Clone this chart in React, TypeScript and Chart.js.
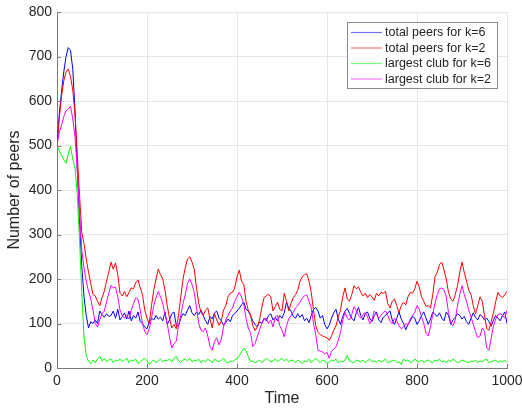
import React, { useEffect, useRef } from "react";
import { Chart, registerables } from "chart.js";
Chart.register(...registerables);

// Sampling interval of the time series (time units between samples)
const TIME_STEP = 5;

const totalPeersK6 = [
  500, 570, 620, 665, 700, 720, 714, 672, 580, 450, 330, 230, 160, 118, 90, 104, 100, 108, 100, 128,
  120, 114, 122, 116, 118, 128, 112, 132, 108, 116,
  124, 110, 128, 106, 118, 112, 126, 104, 100, 92,
  88, 104, 112, 108, 118, 110, 114, 106, 126, 98,
  108, 122, 126, 96, 94, 112, 122, 118, 130, 140,
  124, 118, 126, 120, 130, 118, 106, 98, 116, 110,
  124, 128, 112, 106, 96, 102, 110, 104, 118, 122,
  128, 134, 142, 148, 132, 128, 118, 106, 98, 92,
  104, 100, 112, 106, 118, 122, 108, 114, 106, 118,
  112, 124, 148, 134, 128, 116, 112, 122, 114, 120,
  106, 112, 102, 118, 132, 136, 128, 112, 118, 98,
  88, 96, 112, 124, 132, 110, 98, 116, 128, 134,
  122, 112, 106, 124, 136, 118, 108, 122, 126, 112,
  104, 118, 126, 108, 102, 114, 118, 124, 128, 108,
  98, 112, 126, 110, 100, 86, 98, 106, 116, 112,
  98, 106, 118, 126, 112, 98, 110, 126, 120, 116,
  124, 112, 106, 126, 118, 98, 108, 114, 122, 118,
  110, 116, 104, 98, 112, 124, 114, 108, 120, 116,
  108, 112, 104, 94, 108, 118, 112, 106, 118, 126, 100,
];

const totalPeersK2 = [
  500, 560, 610, 645, 665, 672, 655, 625, 570, 480, 390, 305, 280, 245, 215, 190, 165, 162, 150, 140,
  158, 172, 195, 215, 238, 222, 236, 210, 168, 162,
  172, 160, 170, 180, 178, 192, 198, 180, 165, 130,
  112, 100, 140, 175, 200, 222, 210, 200, 175, 140,
  112, 90, 98, 88, 118, 160, 200, 225, 245, 250,
  238, 222, 180, 145, 125, 118, 130, 135, 110, 90,
  122, 108, 96, 105, 130, 140, 160, 168, 170, 180,
  205, 220, 195, 188, 150, 130, 120, 95, 84, 92,
  108, 135, 158, 162, 166, 160, 128, 138, 148, 132,
  128, 168, 150, 128, 145, 158, 165, 175, 195, 205,
  210, 212, 195, 170, 130, 95, 80, 75, 72, 70,
  68, 62, 72, 85, 95, 115, 130, 160, 180, 155,
  150, 165, 185, 178, 182, 170, 162, 168, 158, 165,
  160, 152, 168, 162, 170, 168, 172, 145, 135, 150,
  155, 140, 125, 140, 148, 142, 160, 170, 168, 178,
  195, 182, 160, 150, 138, 140, 135, 165, 205, 215,
  232, 238, 220, 200, 170, 155, 150, 165, 185, 215,
  238, 215, 195, 175, 165, 140, 122, 140, 160, 150,
  118, 88, 85, 105, 125, 150, 170, 162, 158, 165, 172,
];

const largestClubK6 = [
  500, 488, 478, 468, 460, 480, 498, 470, 450, 390, 290, 170, 70, 28, 14, 10, 18, 12, 20, 26,
  16, 22, 14, 18, 20, 12, 18, 16, 20, 14,
  18, 22, 12, 18, 16, 20, 10, 14, 18, 22,
  16, 8, 14, 18, 12, 16, 20, 14, 18, 16,
  20, 14, 22, 26, 16, 12, 18, 20, 16, 22,
  14, 18, 16, 20, 12, 18, 14, 20, 16, 12,
  20, 16, 14, 18, 22, 14, 12, 16, 14, 18,
  20, 28, 36, 44, 38, 26, 14, 16, 12, 14,
  18, 12, 16, 22, 18, 14, 16, 20, 14, 18,
  22, 16, 20, 14, 18, 16, 12, 18, 14, 10,
  16, 14, 20, 12, 18, 22, 16, 12, 18, 16,
  10, 14, 18, 16, 20, 12, 16, 14, 18, 28,
  16, 14, 12, 18, 16, 14, 18, 12, 16, 20,
  14, 16, 12, 18, 14, 16, 20, 12, 14, 16,
  18, 12, 14, 8, 20, 16, 18, 12, 14, 20,
  16, 14, 18, 12, 16, 18, 14, 12, 18, 16,
  20, 14, 16, 12, 18, 14, 20, 16, 12, 14,
  18, 16, 14, 12, 16, 14, 18, 12, 16, 14,
  18, 20, 12, 14, 16, 18, 12, 16, 14, 18, 12,
];

const largestClubK2 = [
  500, 530, 545, 565, 578, 582, 588, 560, 520, 445, 355, 265, 225, 195, 172, 155, 130, 100, 92, 108,
  122, 128, 148, 168, 186, 180, 182, 160, 130, 118,
  112, 118, 110, 130, 145, 158, 155, 130, 100, 82,
  75, 88, 112, 140, 158, 172, 160, 145, 120, 100,
  70, 45, 55, 60, 95, 118, 145, 165, 190, 200,
  188, 170, 135, 100, 85, 82, 90, 72, 48, 40,
  60, 68, 52, 65, 92, 108, 118, 128, 135, 150,
  160, 170, 160, 142, 112, 90, 80, 48, 55, 70,
  85, 100, 110, 112, 100, 108, 92, 115, 118, 95,
  85, 70, 95, 110, 118, 125, 135, 140, 148, 158,
  162, 165, 150, 135, 100, 75, 40, 38, 36, 32,
  35, 22, 38, 42, 48, 62, 80, 108, 125, 112,
  108, 120, 138, 130, 118, 112, 120, 125, 115, 100,
  108, 128, 120, 112, 118, 125, 128, 118, 105, 100,
  112, 105, 95, 88, 92, 100, 96, 110, 118, 125,
  140, 132, 115, 100, 78, 72, 92, 120, 145, 165,
  178, 180, 176, 160, 125, 100, 95, 108, 140, 165,
  185, 165, 150, 130, 115, 98, 82, 68, 72, 90,
  82, 45, 40, 68, 95, 110, 120, 122, 118, 112, 130,
];

const seriesLabels = [
  "total peers for k=6",
  "total peers for k=2",
  "largest club for k=6",
  "largest club for k=2",
];
const seriesColors = ["#0000ff", "#ff0000", "#00ff00", "#ff00ff"];
const seriesValues = [totalPeersK6, totalPeersK2, largestClubK6, largestClubK2];

const xTickValues = [0, 200, 400, 600, 800, 1000];
const yTickValues = [0, 100, 200, 300, 400, 500, 600, 700, 800];

const FONT = "'Liberation Sans', Arial, Helvetica, sans-serif";
const TEXT = "#262626";
const AXIS = "#7a7a7a";

const legendPlugin = {
  id: "matlabLegend",
  afterDatasetsDraw(chart: any) {
    const ctx = chart.ctx;
    const x0 = 347, y0 = 22, w = 150, h = 66;
    ctx.save();
    ctx.fillStyle = "#ffffff";
    ctx.fillRect(x0, y0, w, h);
    ctx.strokeStyle = "#8a8a8a";
    ctx.lineWidth = 1;
    ctx.strokeRect(x0 + 0.5, y0 + 0.5, w, h);
    ctx.font = `12.5px ${FONT}`;
    ctx.textBaseline = "middle";
    ctx.textAlign = "left";
    seriesLabels.forEach((label, i) => {
      const y = y0 + 10.5 + i * 15.5;
      ctx.strokeStyle = seriesColors[i];
      ctx.globalAlpha = 0.55;
      ctx.lineWidth = 1.2;
      ctx.beginPath();
      ctx.moveTo(x0 + 4, y);
      ctx.lineTo(x0 + 35, y);
      ctx.stroke();
      ctx.globalAlpha = 1;
      ctx.fillStyle = TEXT;
      ctx.fillText(label, x0 + 38, y + 0.5);
    });
    ctx.restore();
  },
  afterDraw(chart: any) {
    // inward tick marks (MATLAB style)
    const ctx = chart.ctx;
    const { left, bottom } = chart.chartArea;
    const xs = chart.scales.x, ys = chart.scales.y;
    ctx.save();
    ctx.strokeStyle = AXIS;
    ctx.lineWidth = 1;
    yTickValues.forEach((v) => {
      const y = Math.round(ys.getPixelForValue(v)) + 0.5;
      ctx.beginPath();
      ctx.moveTo(left, y);
      ctx.lineTo(left + 4, y);
      ctx.stroke();
    });
    xTickValues.forEach((v) => {
      const x = Math.round(xs.getPixelForValue(v)) + 0.5;
      ctx.beginPath();
      ctx.moveTo(x, bottom);
      ctx.lineTo(x, bottom - 4);
      ctx.stroke();
    });
    ctx.restore();
  },
};

export default function App() {
  const ref = useRef<HTMLCanvasElement | null>(null);
  useEffect(() => {
    if (!ref.current) return;
    const datasets = seriesValues.map((vals, i) => ({
      label: seriesLabels[i],
      data: vals.map((v, k) => ({ x: k * TIME_STEP, y: v })),
      borderColor: seriesColors[i],
      backgroundColor: seriesColors[i],
      borderWidth: 1,
      pointRadius: 0,
      tension: 0,
      fill: false,
      order: 4 - i,
    }));
    const chart = new Chart(ref.current, {
      type: "line",
      data: { datasets },
      options: {
        responsive: false,
        animation: false,
        layout: { padding: { left: 0, right: 15, top: 12, bottom: 0 } },
        plugins: { legend: { display: false }, tooltip: { enabled: false } },
        scales: {
          x: {
            type: "linear",
            min: 0,
            max: 1000,
            afterBuildTicks: (s: any) => {
              s.ticks = xTickValues.map((v) => ({ value: v }));
            },
            ticks: {
              color: TEXT,
              font: { family: FONT, size: 14 },
              padding: 5,
              maxRotation: 0,
              callback: (v: any) => String(v),
            },
            grid: { color: "#e6e6e6", drawTicks: false },
            border: { color: AXIS, width: 1 },
            title: {
              display: true,
              text: "Time",
              color: TEXT,
              font: { family: FONT, size: 16, lineHeight: 1 },
              padding: { top: 0, bottom: 1 },
            },
            afterFit: (s: any) => {
              s.height = 40;
              s.paddingLeft = 0;
              s.paddingRight = 0;
            },
          },
          y: {
            type: "linear",
            min: 0,
            max: 800,
            afterBuildTicks: (s: any) => {
              s.ticks = yTickValues.map((v) => ({ value: v }));
            },
            ticks: {
              color: TEXT,
              font: { family: FONT, size: 14 },
              padding: 5,
              callback: (v: any) => String(v),
            },
            grid: { color: "#e6e6e6", drawTicks: false },
            border: { color: AXIS, width: 1 },
            title: {
              display: true,
              text: "Number of peers",
              color: TEXT,
              font: { family: FONT, size: 16, lineHeight: 1 },
              padding: { top: 7, bottom: 0 },
            },
            afterFit: (s: any) => {
              s.width = 57;
              s.paddingTop = 0;
              s.paddingBottom = 0;
            },
          },
        },
      },
      plugins: [legendPlugin],
    });
    return () => chart.destroy();
  }, []);
  return (
    <div style={{ position: "absolute", left: 0, top: 0, width: 522, height: 408, background: "#fff" }}>
      <canvas ref={ref} width={522} height={408} style={{ width: 522, height: 408 }} />
    </div>
  );
}
